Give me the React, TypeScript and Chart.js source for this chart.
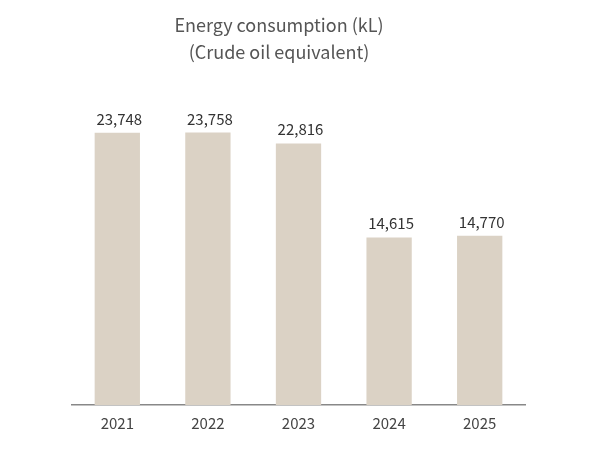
import React, { useEffect, useRef } from "react";
import { Chart, registerables } from "chart.js";

Chart.register(...registerables);

const categories = ["2021", "2022", "2023", "2024", "2025"];
const values = [23748, 23758, 22816, 14615, 14770];
const titleLines = ["Energy consumption (kL)", "(Crude oil equivalent)"];

const FONT = "'Noto Sans CJK JP', 'Noto Sans', sans-serif";

export default function App() {
  const ref = useRef<HTMLCanvasElement | null>(null);
  useEffect(() => {
    if (!ref.current) return;
    const labelPlugin = {
      id: "labels",
      afterDatasetsDraw(chart: any) {
        const ctx = chart.ctx;
        const meta = chart.getDatasetMeta(0);
        ctx.save();
        ctx.font = `15px ${FONT}`;
        ctx.fillStyle = "#333";
        ctx.textAlign = "center";
        ctx.textBaseline = "alphabetic";
        meta.data.forEach((bar: any, i: number) => {
          ctx.fillText(values[i].toLocaleString("en-US"), bar.x + 2, bar.y - 8);
        });
        ctx.font = `18px ${FONT}`;
        ctx.fillStyle = "#555";
        ctx.textBaseline = "middle";
        ctx.fillText(titleLines[0], 279, 25);
        ctx.fillText(titleLines[1], 279, 52);
        ctx.restore();
      },
    };
    const chart = new Chart(ref.current, {
      type: "bar",
      data: {
        labels: categories,
        datasets: [
          {
            data: values,
            backgroundColor: "#dbd2c5",
            barPercentage: 0.5,
            categoryPercentage: 1,
          },
        ],
      },
      options: {
        animation: false,
        responsive: false,
        layout: { padding: { top: 61, left: 72, right: 71, bottom: 0 } },
        plugins: { legend: { display: false }, tooltip: { enabled: false } },
        scales: {
          y: { display: false, min: 0, max: 30000 },
          x: {
            grid: { display: false, drawTicks: false },
            border: { display: true, color: "#888", width: 1.5 },
            ticks: { font: { size: 15, family: FONT }, color: "#444", padding: 9 },
            afterFit(scale: any) {
              scale.height = 59;
            },
          },
        },
      },
      plugins: [labelPlugin],
    });
    return () => chart.destroy();
  }, []);
  return (
    <div style={{ position: "fixed", left: 0, top: 0, width: 596, height: 464, background: "#fff" }}>
      <canvas ref={ref} width={596} height={464} style={{ width: 596, height: 464 }} />
    </div>
  );
}
